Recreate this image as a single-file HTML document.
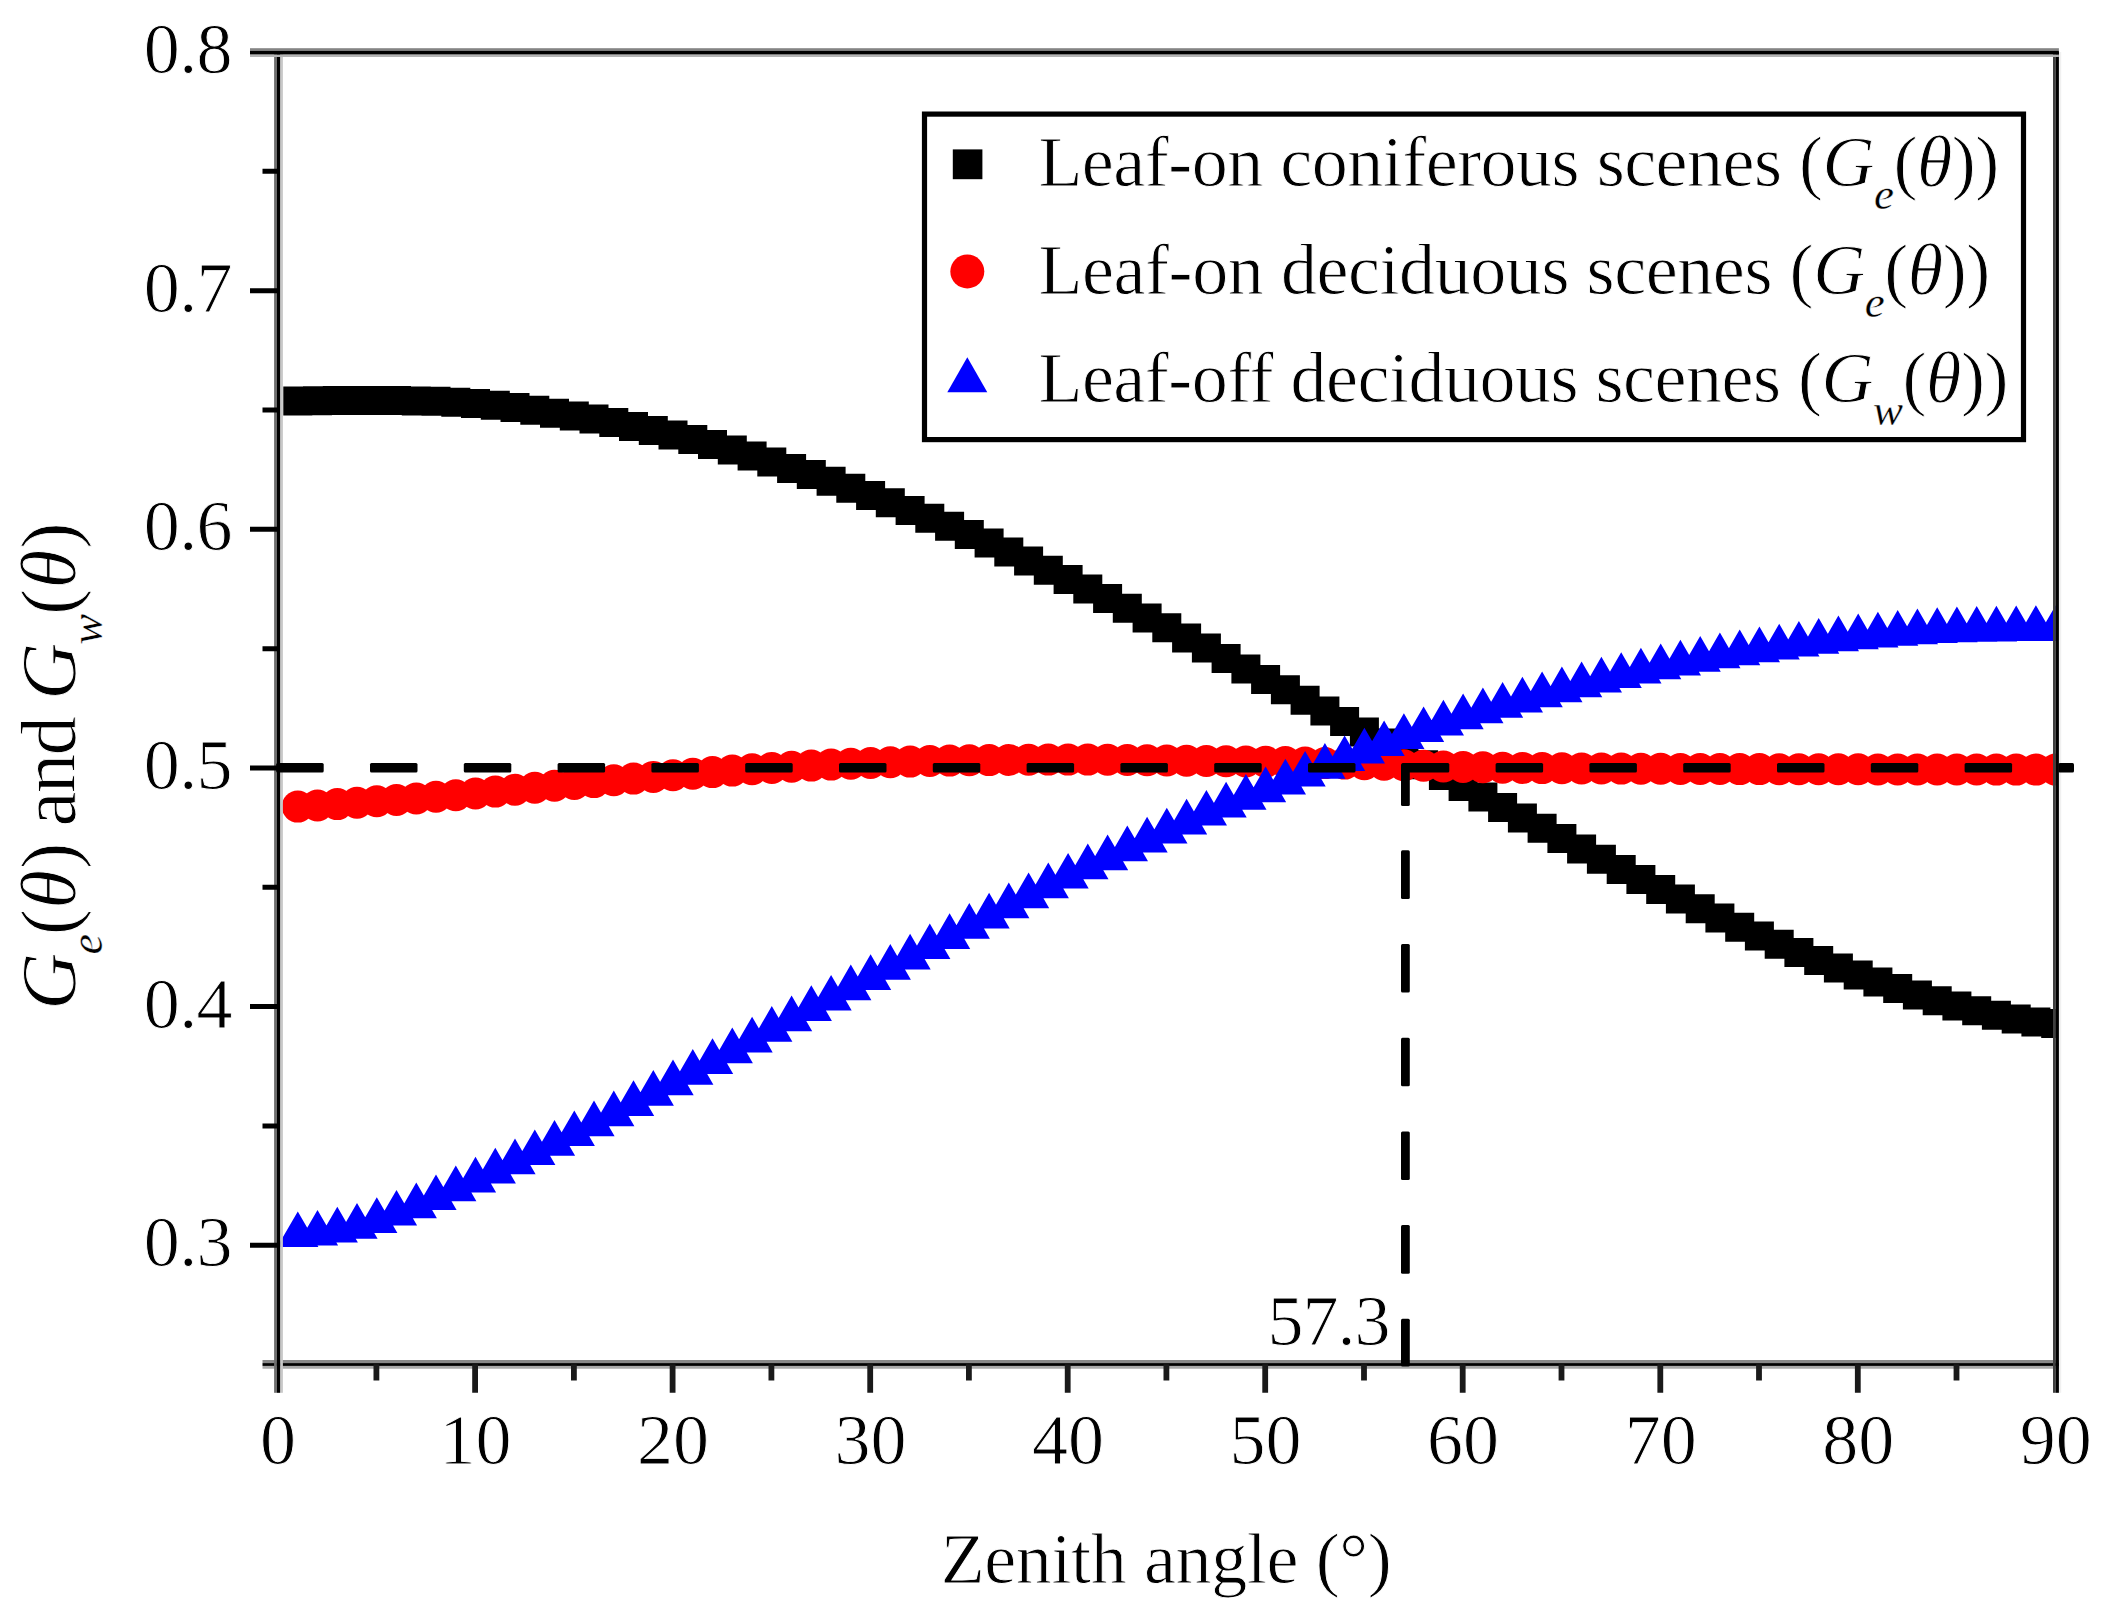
<!DOCTYPE html>
<html lang="en"><head><meta charset="utf-8"><title>G function vs zenith angle</title>
<style>html,body{margin:0;padding:0;background:#fff}svg{display:block}text{font-family:"Liberation Serif",serif;fill:#000;stroke:#fff;stroke-width:0.9px}.i{font-style:italic}.s{stroke-width:0.35px}</style>
</head><body>
<svg width="2110" height="1621" viewBox="0 0 2110 1621">
<rect x="0" y="0" width="2110" height="1621" fill="#fff"/>
<defs><clipPath id="plot"><rect x="278.0" y="51.7" width="1777.7" height="1312.6"/></clipPath></defs>
<g clip-path="url(#plot)">
<path fill="#000" d="M283.3 386.6h29.0v29.0h-29.0zM303.0 386.3h29.0v29.0h-29.0zM322.8 386.1h29.0v29.0h-29.0zM342.5 386.0h29.0v29.0h-29.0zM362.3 385.9h29.0v29.0h-29.0zM382.0 386.0h29.0v29.0h-29.0zM401.8 386.4h29.0v29.0h-29.0zM421.5 386.8h29.0v29.0h-29.0zM441.3 387.7h29.0v29.0h-29.0zM461.0 389.0h29.0v29.0h-29.0zM480.8 390.8h29.0v29.0h-29.0zM500.5 393.0h29.0v29.0h-29.0zM520.3 395.8h29.0v29.0h-29.0zM540.0 398.8h29.0v29.0h-29.0zM559.8 401.5h29.0v29.0h-29.0zM579.5 404.5h29.0v29.0h-29.0zM599.3 408.0h29.0v29.0h-29.0zM619.0 411.9h29.0v29.0h-29.0zM638.8 416.1h29.0v29.0h-29.0zM658.5 420.5h29.0v29.0h-29.0zM678.3 425.1h29.0v29.0h-29.0zM698.0 430.0h29.0v29.0h-29.0zM717.8 435.6h29.0v29.0h-29.0zM737.6 441.5h29.0v29.0h-29.0zM757.3 447.6h29.0v29.0h-29.0zM777.1 453.9h29.0v29.0h-29.0zM796.8 460.1h29.0v29.0h-29.0zM816.6 466.7h29.0v29.0h-29.0zM836.3 473.7h29.0v29.0h-29.0zM856.1 480.9h29.0v29.0h-29.0zM875.8 488.3h29.0v29.0h-29.0zM895.6 495.9h29.0v29.0h-29.0zM915.3 503.7h29.0v29.0h-29.0zM935.1 511.7h29.0v29.0h-29.0zM954.8 520.0h29.0v29.0h-29.0zM974.6 528.6h29.0v29.0h-29.0zM994.3 537.4h29.0v29.0h-29.0zM1014.1 546.6h29.0v29.0h-29.0zM1033.8 555.8h29.0v29.0h-29.0zM1053.6 565.1h29.0v29.0h-29.0zM1073.3 574.5h29.0v29.0h-29.0zM1093.1 584.0h29.0v29.0h-29.0zM1112.8 593.7h29.0v29.0h-29.0zM1132.6 603.4h29.0v29.0h-29.0zM1152.3 613.3h29.0v29.0h-29.0zM1172.1 623.4h29.0v29.0h-29.0zM1191.9 633.6h29.0v29.0h-29.0zM1211.6 644.0h29.0v29.0h-29.0zM1231.4 654.4h29.0v29.0h-29.0zM1251.1 664.9h29.0v29.0h-29.0zM1270.9 675.3h29.0v29.0h-29.0zM1290.6 685.8h29.0v29.0h-29.0zM1310.4 696.4h29.0v29.0h-29.0zM1330.1 707.0h29.0v29.0h-29.0zM1349.9 717.6h29.0v29.0h-29.0zM1369.6 728.4h29.0v29.0h-29.0zM1389.4 739.2h29.0v29.0h-29.0zM1409.1 750.2h29.0v29.0h-29.0zM1428.9 761.0h29.0v29.0h-29.0zM1448.6 771.9h29.0v29.0h-29.0zM1468.4 782.5h29.0v29.0h-29.0zM1488.1 793.0h29.0v29.0h-29.0zM1507.9 803.5h29.0v29.0h-29.0zM1527.6 813.8h29.0v29.0h-29.0zM1547.4 824.1h29.0v29.0h-29.0zM1567.1 834.4h29.0v29.0h-29.0zM1586.9 844.7h29.0v29.0h-29.0zM1606.7 854.9h29.0v29.0h-29.0zM1626.4 865.0h29.0v29.0h-29.0zM1646.2 874.9h29.0v29.0h-29.0zM1665.9 884.6h29.0v29.0h-29.0zM1685.7 894.2h29.0v29.0h-29.0zM1705.4 903.6h29.0v29.0h-29.0zM1725.2 912.7h29.0v29.0h-29.0zM1744.9 921.4h29.0v29.0h-29.0zM1764.7 929.8h29.0v29.0h-29.0zM1784.4 938.0h29.0v29.0h-29.0zM1804.2 945.9h29.0v29.0h-29.0zM1823.9 953.5h29.0v29.0h-29.0zM1843.7 960.6h29.0v29.0h-29.0zM1863.4 967.4h29.0v29.0h-29.0zM1883.2 974.1h29.0v29.0h-29.0zM1902.9 980.4h29.0v29.0h-29.0zM1922.7 986.2h29.0v29.0h-29.0zM1942.4 991.4h29.0v29.0h-29.0zM1962.2 996.2h29.0v29.0h-29.0zM1981.9 1000.7h29.0v29.0h-29.0zM2001.7 1004.5h29.0v29.0h-29.0zM2021.4 1007.4h29.0v29.0h-29.0zM2041.2 1009.0h29.0v29.0h-29.0z"/>
<g fill="#ff0000">
<circle cx="297.8" cy="806.6" r="16.0"/>
<circle cx="317.5" cy="805.4" r="16.0"/>
<circle cx="337.3" cy="804.1" r="16.0"/>
<circle cx="357.0" cy="802.7" r="16.0"/>
<circle cx="376.8" cy="801.3" r="16.0"/>
<circle cx="396.5" cy="799.9" r="16.0"/>
<circle cx="416.3" cy="798.4" r="16.0"/>
<circle cx="436.0" cy="796.8" r="16.0"/>
<circle cx="455.8" cy="795.2" r="16.0"/>
<circle cx="475.5" cy="793.5" r="16.0"/>
<circle cx="495.3" cy="791.6" r="16.0"/>
<circle cx="515.0" cy="789.7" r="16.0"/>
<circle cx="534.8" cy="787.7" r="16.0"/>
<circle cx="554.5" cy="785.8" r="16.0"/>
<circle cx="574.3" cy="783.9" r="16.0"/>
<circle cx="594.0" cy="782.1" r="16.0"/>
<circle cx="613.8" cy="780.3" r="16.0"/>
<circle cx="633.5" cy="778.6" r="16.0"/>
<circle cx="653.3" cy="776.9" r="16.0"/>
<circle cx="673.0" cy="775.3" r="16.0"/>
<circle cx="692.8" cy="773.7" r="16.0"/>
<circle cx="712.5" cy="772.1" r="16.0"/>
<circle cx="732.3" cy="770.6" r="16.0"/>
<circle cx="752.1" cy="769.2" r="16.0"/>
<circle cx="771.8" cy="767.9" r="16.0"/>
<circle cx="791.6" cy="766.7" r="16.0"/>
<circle cx="811.3" cy="765.6" r="16.0"/>
<circle cx="831.1" cy="764.6" r="16.0"/>
<circle cx="850.8" cy="763.7" r="16.0"/>
<circle cx="870.6" cy="762.9" r="16.0"/>
<circle cx="890.3" cy="762.2" r="16.0"/>
<circle cx="910.1" cy="761.6" r="16.0"/>
<circle cx="929.8" cy="761.0" r="16.0"/>
<circle cx="949.6" cy="760.6" r="16.0"/>
<circle cx="969.3" cy="760.3" r="16.0"/>
<circle cx="989.1" cy="760.1" r="16.0"/>
<circle cx="1008.8" cy="759.9" r="16.0"/>
<circle cx="1028.6" cy="759.7" r="16.0"/>
<circle cx="1048.3" cy="759.6" r="16.0"/>
<circle cx="1068.1" cy="759.6" r="16.0"/>
<circle cx="1087.8" cy="759.6" r="16.0"/>
<circle cx="1107.6" cy="759.8" r="16.0"/>
<circle cx="1127.3" cy="760.0" r="16.0"/>
<circle cx="1147.1" cy="760.3" r="16.0"/>
<circle cx="1166.8" cy="760.5" r="16.0"/>
<circle cx="1186.6" cy="760.7" r="16.0"/>
<circle cx="1206.4" cy="760.9" r="16.0"/>
<circle cx="1226.1" cy="761.2" r="16.0"/>
<circle cx="1245.9" cy="761.4" r="16.0"/>
<circle cx="1265.6" cy="761.7" r="16.0"/>
<circle cx="1285.4" cy="762.1" r="16.0"/>
<circle cx="1305.1" cy="762.5" r="16.0"/>
<circle cx="1324.9" cy="763.1" r="16.0"/>
<circle cx="1344.6" cy="763.6" r="16.0"/>
<circle cx="1364.4" cy="764.2" r="16.0"/>
<circle cx="1384.1" cy="764.8" r="16.0"/>
<circle cx="1403.9" cy="765.3" r="16.0"/>
<circle cx="1423.6" cy="765.8" r="16.0"/>
<circle cx="1443.4" cy="766.4" r="16.0"/>
<circle cx="1463.1" cy="766.9" r="16.0"/>
<circle cx="1482.9" cy="767.3" r="16.0"/>
<circle cx="1502.6" cy="767.7" r="16.0"/>
<circle cx="1522.4" cy="767.9" r="16.0"/>
<circle cx="1542.1" cy="768.1" r="16.0"/>
<circle cx="1561.9" cy="768.3" r="16.0"/>
<circle cx="1581.6" cy="768.4" r="16.0"/>
<circle cx="1601.4" cy="768.5" r="16.0"/>
<circle cx="1621.2" cy="768.6" r="16.0"/>
<circle cx="1640.9" cy="768.7" r="16.0"/>
<circle cx="1660.7" cy="768.8" r="16.0"/>
<circle cx="1680.4" cy="768.9" r="16.0"/>
<circle cx="1700.2" cy="768.9" r="16.0"/>
<circle cx="1719.9" cy="769.0" r="16.0"/>
<circle cx="1739.7" cy="769.1" r="16.0"/>
<circle cx="1759.4" cy="769.1" r="16.0"/>
<circle cx="1779.2" cy="769.2" r="16.0"/>
<circle cx="1798.9" cy="769.2" r="16.0"/>
<circle cx="1818.7" cy="769.3" r="16.0"/>
<circle cx="1838.4" cy="769.3" r="16.0"/>
<circle cx="1858.2" cy="769.3" r="16.0"/>
<circle cx="1877.9" cy="769.4" r="16.0"/>
<circle cx="1897.7" cy="769.4" r="16.0"/>
<circle cx="1917.4" cy="769.5" r="16.0"/>
<circle cx="1937.2" cy="769.5" r="16.0"/>
<circle cx="1956.9" cy="769.5" r="16.0"/>
<circle cx="1976.7" cy="769.5" r="16.0"/>
<circle cx="1996.4" cy="769.6" r="16.0"/>
<circle cx="2016.2" cy="769.6" r="16.0"/>
<circle cx="2035.9" cy="769.6" r="16.0"/>
<circle cx="2055.7" cy="769.6" r="16.0"/>
</g>
<path fill="#0000ff" fill-rule="nonzero" d="M297.8 1211.4L318.4 1247.1L277.1 1247.1zM317.5 1209.9L338.1 1245.6L296.9 1245.6zM337.3 1206.8L357.9 1242.5L316.6 1242.5zM357.0 1203.0L377.6 1238.7L336.4 1238.7zM376.8 1197.3L397.4 1233.0L356.1 1233.0zM396.5 1189.9L417.1 1225.6L375.9 1225.6zM416.3 1182.5L436.9 1218.2L395.7 1218.2zM436.0 1174.4L456.6 1210.1L415.4 1210.1zM455.8 1165.5L476.4 1201.2L435.2 1201.2zM475.5 1156.7L496.1 1192.4L454.9 1192.4zM495.3 1147.7L515.9 1183.4L474.7 1183.4zM515.0 1138.6L535.6 1174.3L494.4 1174.3zM534.8 1129.4L555.4 1165.1L514.2 1165.1zM554.5 1120.0L575.1 1155.7L533.9 1155.7zM574.3 1110.4L594.9 1146.1L553.7 1146.1zM594.0 1100.6L614.6 1136.3L573.4 1136.3zM613.8 1090.5L634.4 1126.2L593.2 1126.2zM633.5 1080.3L654.2 1116.0L612.9 1116.0zM653.3 1070.0L673.9 1105.7L632.7 1105.7zM673.0 1059.6L693.7 1095.3L652.4 1095.3zM692.8 1049.0L713.4 1084.7L672.2 1084.7zM712.5 1038.3L733.2 1074.0L691.9 1074.0zM732.3 1027.5L752.9 1063.2L711.7 1063.2zM752.1 1016.7L772.7 1052.4L731.4 1052.4zM771.8 1006.1L792.4 1041.8L751.2 1041.8zM791.6 995.6L812.2 1031.3L770.9 1031.3zM811.3 985.2L831.9 1020.9L790.7 1020.9zM831.1 974.9L851.7 1010.6L810.5 1010.6zM850.8 964.6L871.4 1000.3L830.2 1000.3zM870.6 954.3L891.2 990.0L850.0 990.0zM890.3 944.0L910.9 979.7L869.7 979.7zM910.1 933.7L930.7 969.4L889.5 969.4zM929.8 923.4L950.4 959.1L909.2 959.1zM949.6 913.2L970.2 948.9L929.0 948.9zM969.3 903.0L989.9 938.7L948.7 938.7zM989.1 892.8L1009.7 928.5L968.5 928.5zM1008.8 882.6L1029.4 918.3L988.2 918.3zM1028.6 872.5L1049.2 908.2L1008.0 908.2zM1048.3 862.6L1068.9 898.3L1027.7 898.3zM1068.1 852.9L1088.7 888.6L1047.5 888.6zM1087.8 843.6L1108.5 879.3L1067.2 879.3zM1107.6 834.5L1128.2 870.2L1087.0 870.2zM1127.3 825.6L1148.0 861.3L1106.7 861.3zM1147.1 816.7L1167.7 852.4L1126.5 852.4zM1166.8 807.8L1187.5 843.5L1146.2 843.5zM1186.6 798.7L1207.2 834.4L1166.0 834.4zM1206.4 789.9L1227.0 825.6L1185.7 825.6zM1226.1 781.8L1246.7 817.5L1205.5 817.5zM1245.9 774.1L1266.5 809.8L1225.2 809.8zM1265.6 766.5L1286.2 802.2L1245.0 802.2zM1285.4 758.7L1306.0 794.4L1264.8 794.4zM1305.1 750.9L1325.7 786.6L1284.5 786.6zM1324.9 743.1L1345.5 778.8L1304.3 778.8zM1344.6 735.4L1365.2 771.1L1324.0 771.1zM1364.4 727.8L1385.0 763.5L1343.8 763.5zM1384.1 720.4L1404.7 756.1L1363.5 756.1zM1403.9 713.3L1424.5 749.0L1383.3 749.0zM1423.6 706.4L1444.2 742.1L1403.0 742.1zM1443.4 699.7L1464.0 735.4L1422.8 735.4zM1463.1 693.5L1483.7 729.2L1442.5 729.2zM1482.9 687.6L1503.5 723.3L1462.3 723.3zM1502.6 682.0L1523.2 717.7L1482.0 717.7zM1522.4 676.7L1543.0 712.4L1501.8 712.4zM1542.1 671.5L1562.8 707.2L1521.5 707.2zM1561.9 666.5L1582.5 702.2L1541.3 702.2zM1581.6 661.6L1602.3 697.3L1561.0 697.3zM1601.4 656.8L1622.0 692.5L1580.8 692.5zM1621.2 652.2L1641.8 687.9L1600.5 687.9zM1640.9 647.8L1661.5 683.5L1620.3 683.5zM1660.7 643.6L1681.3 679.3L1640.0 679.3zM1680.4 639.7L1701.0 675.4L1659.8 675.4zM1700.2 636.0L1720.8 671.7L1679.5 671.7zM1719.9 632.6L1740.5 668.3L1699.3 668.3zM1739.7 629.5L1760.3 665.2L1719.1 665.2zM1759.4 626.6L1780.0 662.3L1738.8 662.3zM1779.2 623.8L1799.8 659.5L1758.6 659.5zM1798.9 620.9L1819.5 656.6L1778.3 656.6zM1818.7 618.1L1839.3 653.8L1798.1 653.8zM1838.4 615.6L1859.0 651.3L1817.8 651.3zM1858.2 613.5L1878.8 649.2L1837.6 649.2zM1877.9 611.7L1898.5 647.4L1857.3 647.4zM1897.7 610.0L1918.3 645.7L1877.1 645.7zM1917.4 608.5L1938.0 644.2L1896.8 644.2zM1937.2 607.3L1957.8 643.0L1916.6 643.0zM1956.9 606.6L1977.6 642.3L1936.3 642.3zM1976.7 606.1L1997.3 641.8L1956.1 641.8zM1996.4 605.7L2017.1 641.4L1975.8 641.4zM2016.2 605.4L2036.8 641.1L1995.6 641.1zM2035.9 605.2L2056.6 640.9L2015.3 640.9zM2055.7 605.2L2076.3 640.9L2035.1 640.9z"/>
</g>
<g>
<rect x="262.5" y="1360.0" width="1796.4" height="3.10" fill="#888888"/>
<rect x="262.5" y="1365.9" width="1796.4" height="2.85" fill="#aaaaaa"/>
<rect x="262.5" y="1363.1" width="1796.4" height="2.80" fill="#000"/>
<rect x="274.1" y="52" width="2.80" height="1340.8" fill="#6e6e6e"/>
<rect x="280.1" y="52" width="2.80" height="1340.8" fill="#c8c8c8"/>
<rect x="276.9" y="52" width="3.20" height="1340.8" fill="#000"/>
<rect x="2053.0" y="52" width="2.80" height="1340.8" fill="#404040"/>
<rect x="2058.9" y="52" width="2.30" height="1340.8" fill="#f0f0f0"/>
<rect x="2055.8" y="52" width="3.10" height="1340.8" fill="#000"/>
<rect x="250" y="48.2" width="1808.9" height="2.60" fill="#848484"/>
<rect x="250" y="54.4" width="1808.9" height="2.60" fill="#b4b4b4"/>
<rect x="250" y="50.8" width="1808.9" height="3.60" fill="#000"/>
</g>
<path d="M376.4 1364.3V1380.6M475.1 1364.3V1392.8M573.9 1364.3V1380.6M672.6 1364.3V1392.8M771.4 1364.3V1380.6M870.2 1364.3V1392.8M968.9 1364.3V1380.6M1067.7 1364.3V1392.8M1166.4 1364.3V1380.6M1265.2 1364.3V1392.8M1364.0 1364.3V1380.6M1462.7 1364.3V1392.8M1561.5 1364.3V1380.6M1660.3 1364.3V1392.8M1759.0 1364.3V1380.6M1857.8 1364.3V1392.8M1956.5 1364.3V1380.6" stroke="#1a1a1a" stroke-width="5.8" fill="none"/>
<path d="M278.0 171.3H262.5M278.0 290.7H250M278.0 410.0H262.5M278.0 529.3H250M278.0 648.7H262.5M278.0 768.0H250M278.0 887.3H262.5M278.0 1006.6H250M278.0 1126.0H262.5M278.0 1245.3H250" stroke="#000" stroke-width="5" fill="none"/>
<g fill="#000">
<rect x="276.2" y="762.9" width="47.5" height="9.6" rx="1.5"/>
<rect x="370.0" y="762.9" width="47.5" height="9.6" rx="1.5"/>
<rect x="463.8" y="762.9" width="47.5" height="9.6" rx="1.5"/>
<rect x="557.6" y="762.9" width="47.5" height="9.6" rx="1.5"/>
<rect x="651.4" y="762.9" width="47.5" height="9.6" rx="1.5"/>
<rect x="745.2" y="762.9" width="47.5" height="9.6" rx="1.5"/>
<rect x="839.0" y="762.9" width="47.5" height="9.6" rx="1.5"/>
<rect x="932.8" y="762.9" width="47.5" height="9.6" rx="1.5"/>
<rect x="1026.6" y="762.9" width="47.5" height="9.6" rx="1.5"/>
<rect x="1120.4" y="762.9" width="47.5" height="9.6" rx="1.5"/>
<rect x="1214.2" y="762.9" width="47.5" height="9.6" rx="1.5"/>
<rect x="1308.0" y="762.9" width="47.5" height="9.6" rx="1.5"/>
<rect x="1401.8" y="762.9" width="47.5" height="9.6" rx="1.5"/>
<rect x="1495.6" y="762.9" width="47.5" height="9.6" rx="1.5"/>
<rect x="1589.4" y="762.9" width="47.5" height="9.6" rx="1.5"/>
<rect x="1683.2" y="762.9" width="47.5" height="9.6" rx="1.5"/>
<rect x="1777.0" y="762.9" width="47.5" height="9.6" rx="1.5"/>
<rect x="1870.8" y="762.9" width="47.5" height="9.6" rx="1.5"/>
<rect x="1964.6" y="762.9" width="47.5" height="9.6" rx="1.5"/>
<rect x="2058.4" y="762.9" width="15.6" height="9.6" rx="1.5"/>
<rect x="1401.0" y="763.2" width="8.8" height="42.8" rx="1.5"/>
<rect x="1401.0" y="850.3" width="8.8" height="48.6" rx="1.5"/>
<rect x="1401.0" y="944.0" width="8.8" height="48.6" rx="1.5"/>
<rect x="1401.0" y="1037.7" width="8.8" height="48.6" rx="1.5"/>
<rect x="1401.0" y="1131.4" width="8.8" height="48.6" rx="1.5"/>
<rect x="1401.0" y="1225.1" width="8.8" height="48.6" rx="1.5"/>
<rect x="1401.0" y="1318.8" width="8.8" height="47.7" rx="1.5"/>
</g>
<rect x="924.5" y="114.1" width="1099.0" height="325.5" fill="#fff" stroke="#000" stroke-width="5.2"/>
<rect x="952.8" y="149.4" width="29.6" height="29.8" fill="#000"/>
<circle cx="967.3" cy="271.4" r="17" fill="#ff0000"/>
<path d="M967.3 357.3L987.3 392.3L947.3 392.3z" fill="#0000ff"/>
<text x="1038.4" y="186.4" font-size="72" letter-spacing="-0.5">Leaf-on coniferous scenes (<tspan class="i">G</tspan><tspan class="i s" font-size="45" dy="23">e</tspan><tspan dy="-23">(</tspan><tspan class="i">θ</tspan>))</text>
<text x="1038.4" y="294" font-size="72" letter-spacing="-0.42">Leaf-on deciduous scenes (<tspan class="i">G</tspan><tspan class="i s" font-size="45" dy="23">e</tspan><tspan dy="-23">(</tspan><tspan class="i">θ</tspan>))</text>
<text x="1038.4" y="401.6" font-size="72" letter-spacing="-0.49">Leaf-off deciduous scenes (<tspan class="i">G</tspan><tspan class="i s" font-size="45" dy="23">w</tspan><tspan dy="-23">(</tspan><tspan class="i">θ</tspan>))</text>
<text x="278.0" y="1464" font-size="72" text-anchor="middle">0</text>
<text x="475.5" y="1464" font-size="72" text-anchor="middle">10</text>
<text x="673.0" y="1464" font-size="72" text-anchor="middle">20</text>
<text x="870.6" y="1464" font-size="72" text-anchor="middle">30</text>
<text x="1068.1" y="1464" font-size="72" text-anchor="middle">40</text>
<text x="1265.6" y="1464" font-size="72" text-anchor="middle">50</text>
<text x="1463.1" y="1464" font-size="72" text-anchor="middle">60</text>
<text x="1660.7" y="1464" font-size="72" text-anchor="middle">70</text>
<text x="1858.2" y="1464" font-size="72" text-anchor="middle">80</text>
<text x="2055.7" y="1464" font-size="72" text-anchor="middle">90</text>
<text x="232" y="72.9" font-size="72" text-anchor="end" letter-spacing="-0.6">0.8</text>
<text x="232" y="311.6" font-size="72" text-anchor="end" letter-spacing="-0.6">0.7</text>
<text x="232" y="550.2" font-size="72" text-anchor="end" letter-spacing="-0.6">0.6</text>
<text x="232" y="788.9" font-size="72" text-anchor="end" letter-spacing="-0.6">0.5</text>
<text x="232" y="1027.5" font-size="72" text-anchor="end" letter-spacing="-0.6">0.4</text>
<text x="232" y="1266.2" font-size="72" text-anchor="end" letter-spacing="-0.6">0.3</text>
<text x="1389.5" y="1344.5" font-size="72" text-anchor="end" letter-spacing="-1">57.3</text>
<text x="1166" y="1583" font-size="72" text-anchor="middle" letter-spacing="-0.37">Zenith angle (°)</text>
<text transform="translate(74.5 767) rotate(-90)" font-size="79" text-anchor="middle" letter-spacing="-1.75"><tspan class="i">G</tspan><tspan class="i s" font-size="46" dy="27">e</tspan><tspan dy="-27" dx="0.5">(</tspan><tspan class="i" dx="2">θ</tspan><tspan dx="2.5">)</tspan> and <tspan class="i">G</tspan><tspan class="i s" font-size="46" dy="27">w</tspan><tspan dy="-27" dx="0.5">(</tspan><tspan class="i" dx="2">θ</tspan><tspan dx="2.5">)</tspan></text>
</svg></body></html>
